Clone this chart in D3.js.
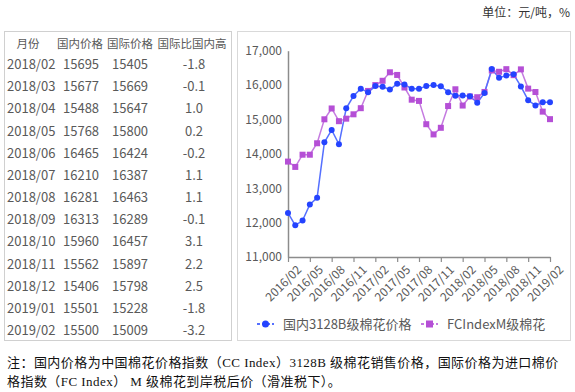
<!DOCTYPE html>
<html><head><meta charset="utf-8">
<script src="https://cdn.jsdelivr.net/npm/d3@7"></script>
<style>
body{margin:0;background:#fff;}
svg{display:block;}
</style></head>
<body>
<svg id="c" width="575" height="392"></svg>
<script>
// ---- data ----
const months = ["2016/02","2016/03","2016/04","2016/05","2016/06","2016/07","2016/08","2016/09","2016/10","2016/11","2016/12",
"2017/01","2017/02","2017/03","2017/04","2017/05","2017/06","2017/07","2017/08","2017/09","2017/10","2017/11","2017/12",
"2018/01","2018/02","2018/03","2018/04","2018/05","2018/06","2018/07","2018/08","2018/09","2018/10","2018/11","2018/12",
"2019/01","2019/02"];
const domestic = [12280,11920,12060,12530,12720,14335,14695,14280,15325,15680,15895,15790,15970,15950,15870,16040,16015,
15895,15895,15970,16003,15965,15795,15692,15695,15677,15488,15768,16465,16210,16281,16313,15960,15562,15406,15501,15500];
const international = [13775,13620,13975,13975,14308,15005,15320,14950,15023,15150,15328,15830,16000,16125,16372,16295,15930,
15575,15540,14862,14565,14758,15390,15878,15405,15669,15647,15800,16424,16387,16463,16289,16457,15897,15798,15228,15009];
const tableMonths = ["2018/02","2018/03","2018/04","2018/05","2018/06","2018/07","2018/08","2018/09","2018/10","2018/11","2018/12","2019/01","2019/02"];
const tableDomestic = [15695,15677,15488,15768,16465,16210,16281,16313,15960,15562,15406,15501,15500];
const tableIntl = [15405,15669,15647,15800,16424,16387,16463,16289,16457,15897,15798,15228,15009];
const tableDiff = ["-1.8","-0.1","1.0","0.2","-0.2","1.1","1.1","-0.1","3.1","2.2","2.5","-1.8","-3.2"];
const tableHeader = ["月份","国内价格","国际价格","国际比国内高"];
const xTickLabels = ["2016/02","2016/05","2016/08","2016/11","2017/02","2017/05","2017/08","2017/11","2018/02","2018/05","2018/08","2018/11","2019/02"];
const yTicks = [11000,12000,13000,14000,15000,16000,17000];
const seriesNames = ["国内3128B级棉花价格","FCIndexM级棉花"];
const unitText = "单位：元/吨，%";
const noteLines = ["注：国内价格为中国棉花价格指数（CC Index）3128B 级棉花销售价格，国际价格为进口棉价",
"格指数（FC Index） M 级棉花到岸税后价（滑准税下）。"];

// ---- drawing ----
const svg = d3.select("#c");
const sans = "'Noto Sans CJK SC','Noto Sans',sans-serif";
const serif = "'Liberation Serif','Noto Sans CJK SC',serif";
const txt = "#595959";
const blue = "#2443ff", blueLine = "#5570ff";
const purple = "#b54fd6", purpleLine = "#c57be0";

svg.append("text").attr("x",570).attr("y",17).attr("text-anchor","end")
  .attr("font-family",sans).attr("font-size",12).attr("fill","#333").text(unitText);

// panels
svg.append("rect").attr("x",4.5).attr("y",31.5).attr("width",227).attr("height",309)
  .attr("fill","none").attr("stroke","#d0d0d0");
svg.append("rect").attr("x",237.5).attr("y",31.5).attr("width",333).attr("height",309)
  .attr("fill","none").attr("stroke","#d9d9d9");

// table
const colX = [28,80,130,192];
const tg = svg.append("g").attr("font-family",sans).attr("fill",txt);
tableHeader.forEach((h,i)=>{
  tg.append("text").attr("x",colX[i]).attr("y",48).attr("text-anchor","middle")
    .attr("font-size",11.5).text(h);
});
const rowY = d3.scaleLinear().domain([0,12]).range([69,335]);
tableMonths.forEach((m,i)=>{
  const y = rowY(i);
  tg.append("text").attr("x",7).attr("y",y).attr("font-size",13).text(m);
  tg.append("text").attr("x",63).attr("y",y).attr("font-size",13).text(tableDomestic[i]);
  tg.append("text").attr("x",112).attr("y",y).attr("font-size",13).text(tableIntl[i]);
  tg.append("text").attr("x",194).attr("y",y).attr("text-anchor","middle").attr("font-size",13).text(tableDiff[i]);
});

// chart
const x = d3.scaleLinear().domain([0, months.length-1]).range([288, 550]);
const y = d3.scaleLinear().domain([11000,17000]).range([257, 50.7]);

const yAxis = svg.append("g").attr("transform","translate(288,0)")
  .call(d3.axisLeft(y).tickValues(yTicks).tickSize(0).tickPadding(6).tickFormat(d3.format(",")));
yAxis.select(".domain").attr("stroke","#8c8c8c").attr("stroke-width",1.5);
yAxis.selectAll("text").attr("font-family",sans).attr("font-size",12).attr("fill",txt);

const tickIdx = xTickLabels.map(l=>months.indexOf(l));
const xAxis = svg.append("g").attr("transform","translate(0,257)")
  .call(d3.axisBottom(x).tickValues(tickIdx).tickSize(5).tickSizeOuter(0).tickFormat(i=>months[i]));
xAxis.select(".domain").attr("stroke","#8c8c8c").attr("stroke-width",1.5);
xAxis.selectAll(".tick line").attr("stroke","#8c8c8c").attr("stroke-width",1.2);
xAxis.selectAll("text").attr("font-family",sans).attr("font-size",12).attr("fill",txt)
  .attr("text-anchor","end").attr("dy","0.35em")
  .attr("transform","translate(5,5) rotate(-45)");

const line = d3.line().x((d,i)=>x(i)).y(d=>y(d));
svg.append("path").datum(international).attr("d",line).attr("fill","none")
  .attr("stroke",purpleLine).attr("stroke-width",1.5);
svg.append("path").datum(domestic).attr("d",line).attr("fill","none")
  .attr("stroke",blueLine).attr("stroke-width",1.5);
svg.selectAll(".sq").data(international).enter().append("rect")
  .attr("x",(d,i)=>x(i)-3).attr("y",d=>y(d)-3).attr("width",6).attr("height",6).attr("fill",purple);
svg.selectAll(".dot").data(domestic).enter().append("circle")
  .attr("cx",(d,i)=>x(i)).attr("cy",d=>y(d)).attr("r",3).attr("fill",blue);

// legend
const lg = svg.append("g").attr("font-family",sans).attr("font-size",13).attr("fill",txt);
lg.append("line").attr("x1",257).attr("x2",274).attr("y1",324).attr("y2",324)
  .attr("stroke",blueLine).attr("stroke-width",1.8).attr("stroke-dasharray","3,2");
lg.append("circle").attr("cx",265.5).attr("cy",324).attr("r",3.5).attr("fill",blue);
lg.append("text").attr("x",283).attr("y",329).text(seriesNames[0]);
lg.append("line").attr("x1",421).attr("x2",438).attr("y1",324).attr("y2",324)
  .attr("stroke",purpleLine).attr("stroke-width",1.8).attr("stroke-dasharray","3,2");
lg.append("rect").attr("x",426).attr("y",320.5).attr("width",7).attr("height",7).attr("fill",purple);
lg.append("text").attr("x",447).attr("y",329).text(seriesNames[1]);

// note
noteLines.forEach((t,i)=>{
  svg.append("text").attr("x",7).attr("y",367+i*19).attr("font-family",serif)
    .attr("font-size",13).attr("letter-spacing",0.45).attr("fill","#111").text(t);
});
</script>
</body></html>
